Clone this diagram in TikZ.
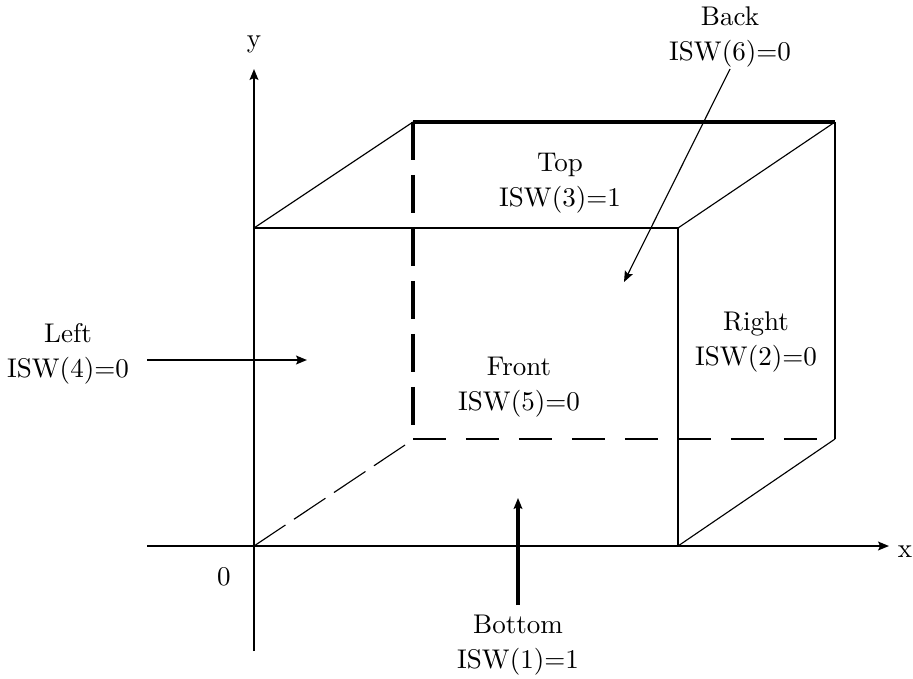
\documentclass[tikz,border=0pt]{standalone}
\usetikzlibrary{arrows.meta}
\tikzset{
  >={Stealth[length=4pt,width=3.2pt,inset=0.7pt]},
  edge/.style={line width=0.95pt},
  backedge/.style={line width=1.2pt},
  thinedge/.style={line width=0.42pt},
  axis/.style={line width=0.9pt,->},
  facelabel/.style={align=center},
}
\begin{document}
\begin{tikzpicture}[x=0.37pt,y=-0.37pt]
  \useasboundingbox (0,0) rectangle (913,678);
  % corners of the box
  \coordinate (o) at (254,546);
  \coordinate (ftl) at (254,228);
  \coordinate (ftr) at (678,228);
  \coordinate (fbr) at (678,546);
  \coordinate (btl) at (413,122);
  \coordinate (btr) at (835,122);
  \coordinate (bbl) at (413,439);
  \coordinate (bbr) at (835,439);
  % axes
  \coordinate (xstart) at (147,546);
  \coordinate (xend) at (889,546);
  \coordinate (ystart) at (254,651);
  \coordinate (yend) at (254,69);
  \draw[axis] (xstart)--(xend);
  \draw[axis] (ystart)--(yend);
  \node (xlabel) at (905,552) {x};
  \node (ylabel) at (254,44) {y};
  \node (zero) at (224,577) {0};
  % box
  \draw[edge] (ftl)--(ftr)--(fbr);
  \draw[backedge] (btl)--(btr);
  \draw[edge] (btr)--(bbr);
  \draw[thinedge] (ftl)--(btl);
  \draw[thinedge] (ftr)--(btr);
  \draw[thinedge] (fbr)--(bbr);
  \draw[backedge,dash pattern=on 14pt off 5.6pt] (btl)--(bbl);
  \draw[edge,dash pattern=on 12.3pt off 7.3pt] (bbl)--(bbr);
  \draw[thinedge,dash pattern=on 14pt off 3.8pt] (o)--(405,445);
  % faces
  \node[facelabel] (top) at (560,183) {Top\\[1pt]ISW(3)=1};
  \node[facelabel] (front) at (519,387) {Front\\[1pt]ISW(5)=0};
  \node[facelabel] (right) at (756,342) {Right\\[1pt]ISW(2)=0};
  \node[facelabel] (left) at (68,354) {Left\\[1pt]ISW(4)=0};
  \node[facelabel] (bottom) at (518,645) {Bottom\\[1pt]ISW(1)=1};
  \node[facelabel] (back) at (730,37) {Back\\[1pt]ISW(6)=0};
  % arrows to the faces
  \coordinate (leftstart) at (147,360);
  \coordinate (lefttip) at (307,360);
  \coordinate (bottomstart) at (518,605);
  \coordinate (bottomtip) at (518,498);
  \coordinate (backstart) at (730,69);
  \coordinate (backtip) at (624,282);
  \draw[line width=0.9pt,->] (leftstart)--(lefttip);
  \draw[line width=1.3pt,->] (bottomstart)--(bottomtip);
  \draw[thinedge,->] (backstart)--(backtip);
\end{tikzpicture}
\end{document}
